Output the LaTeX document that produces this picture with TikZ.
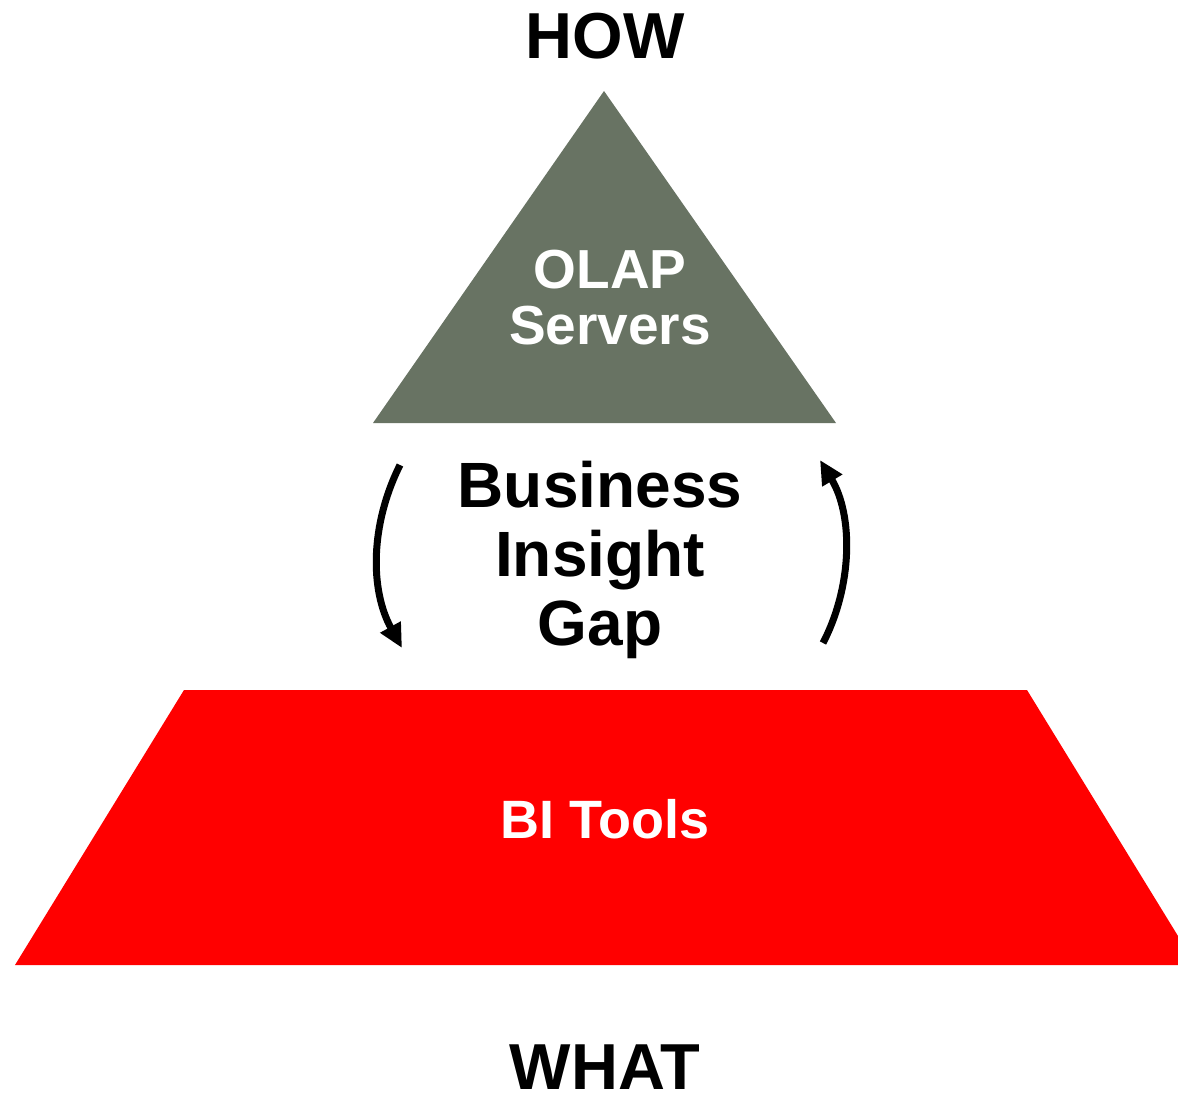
\documentclass[tikz,border=0pt]{standalone}
\usepackage{fontspec}
\setmainfont{Liberation Sans}
\usetikzlibrary{arrows.meta}
\definecolor{olapgrey}{RGB}{104,115,99}
\definecolor{bired}{RGB}{255,0,0}
\tikzset{
  lbl/.style={inner sep=0pt, align=center, font=\bfseries\fontsize{#1}{#1}\selectfont},
  gaparrow/.style={line width=7pt, -{Triangle[length=24pt,width=22pt]}},
}
\begin{document}
\begin{tikzpicture}[x=1pt,y=-1pt]
\useasboundingbox (0,0) rectangle (1178,1102);
% triangle
\fill[olapgrey] (604,91) coordinate (apex) -- (836,423) -- (373,423) -- cycle;
% trapezoid
\fill[bired] (184,690) -- (1027,690) -- (1178,936) -- (1178,965) -- (15,965) -- cycle;
% labels
\node[lbl=65, anchor=base] (how) at (605,59) {HOW};
\node[lbl=65, anchor=base] (what) at (605,1089) {WHAT};
\node[lbl=55, text=white, font=\bfseries\fontsize{55}{56}\selectfont] (olap) at (610,298) {OLAP\\Servers};
\node[lbl=64, font=\bfseries\fontsize{64}{69}\selectfont] (gap) at (600,560) {Business\\Insight\\Gap};
\node[lbl=54, text=white, anchor=base] (bi) at (605,838) {BI Tools};
% arrows
\coordinate (l1) at (400,465);
\coordinate (l2) at (402,648);
\coordinate (r1) at (823,643);
\coordinate (r2) at (820,460);
\draw[gaparrow] (l1) .. controls (370,525) and (370,590) .. (l2);
\draw[gaparrow] (r1) .. controls (853,585) and (853,515) .. (r2);
\end{tikzpicture}
\end{document}
